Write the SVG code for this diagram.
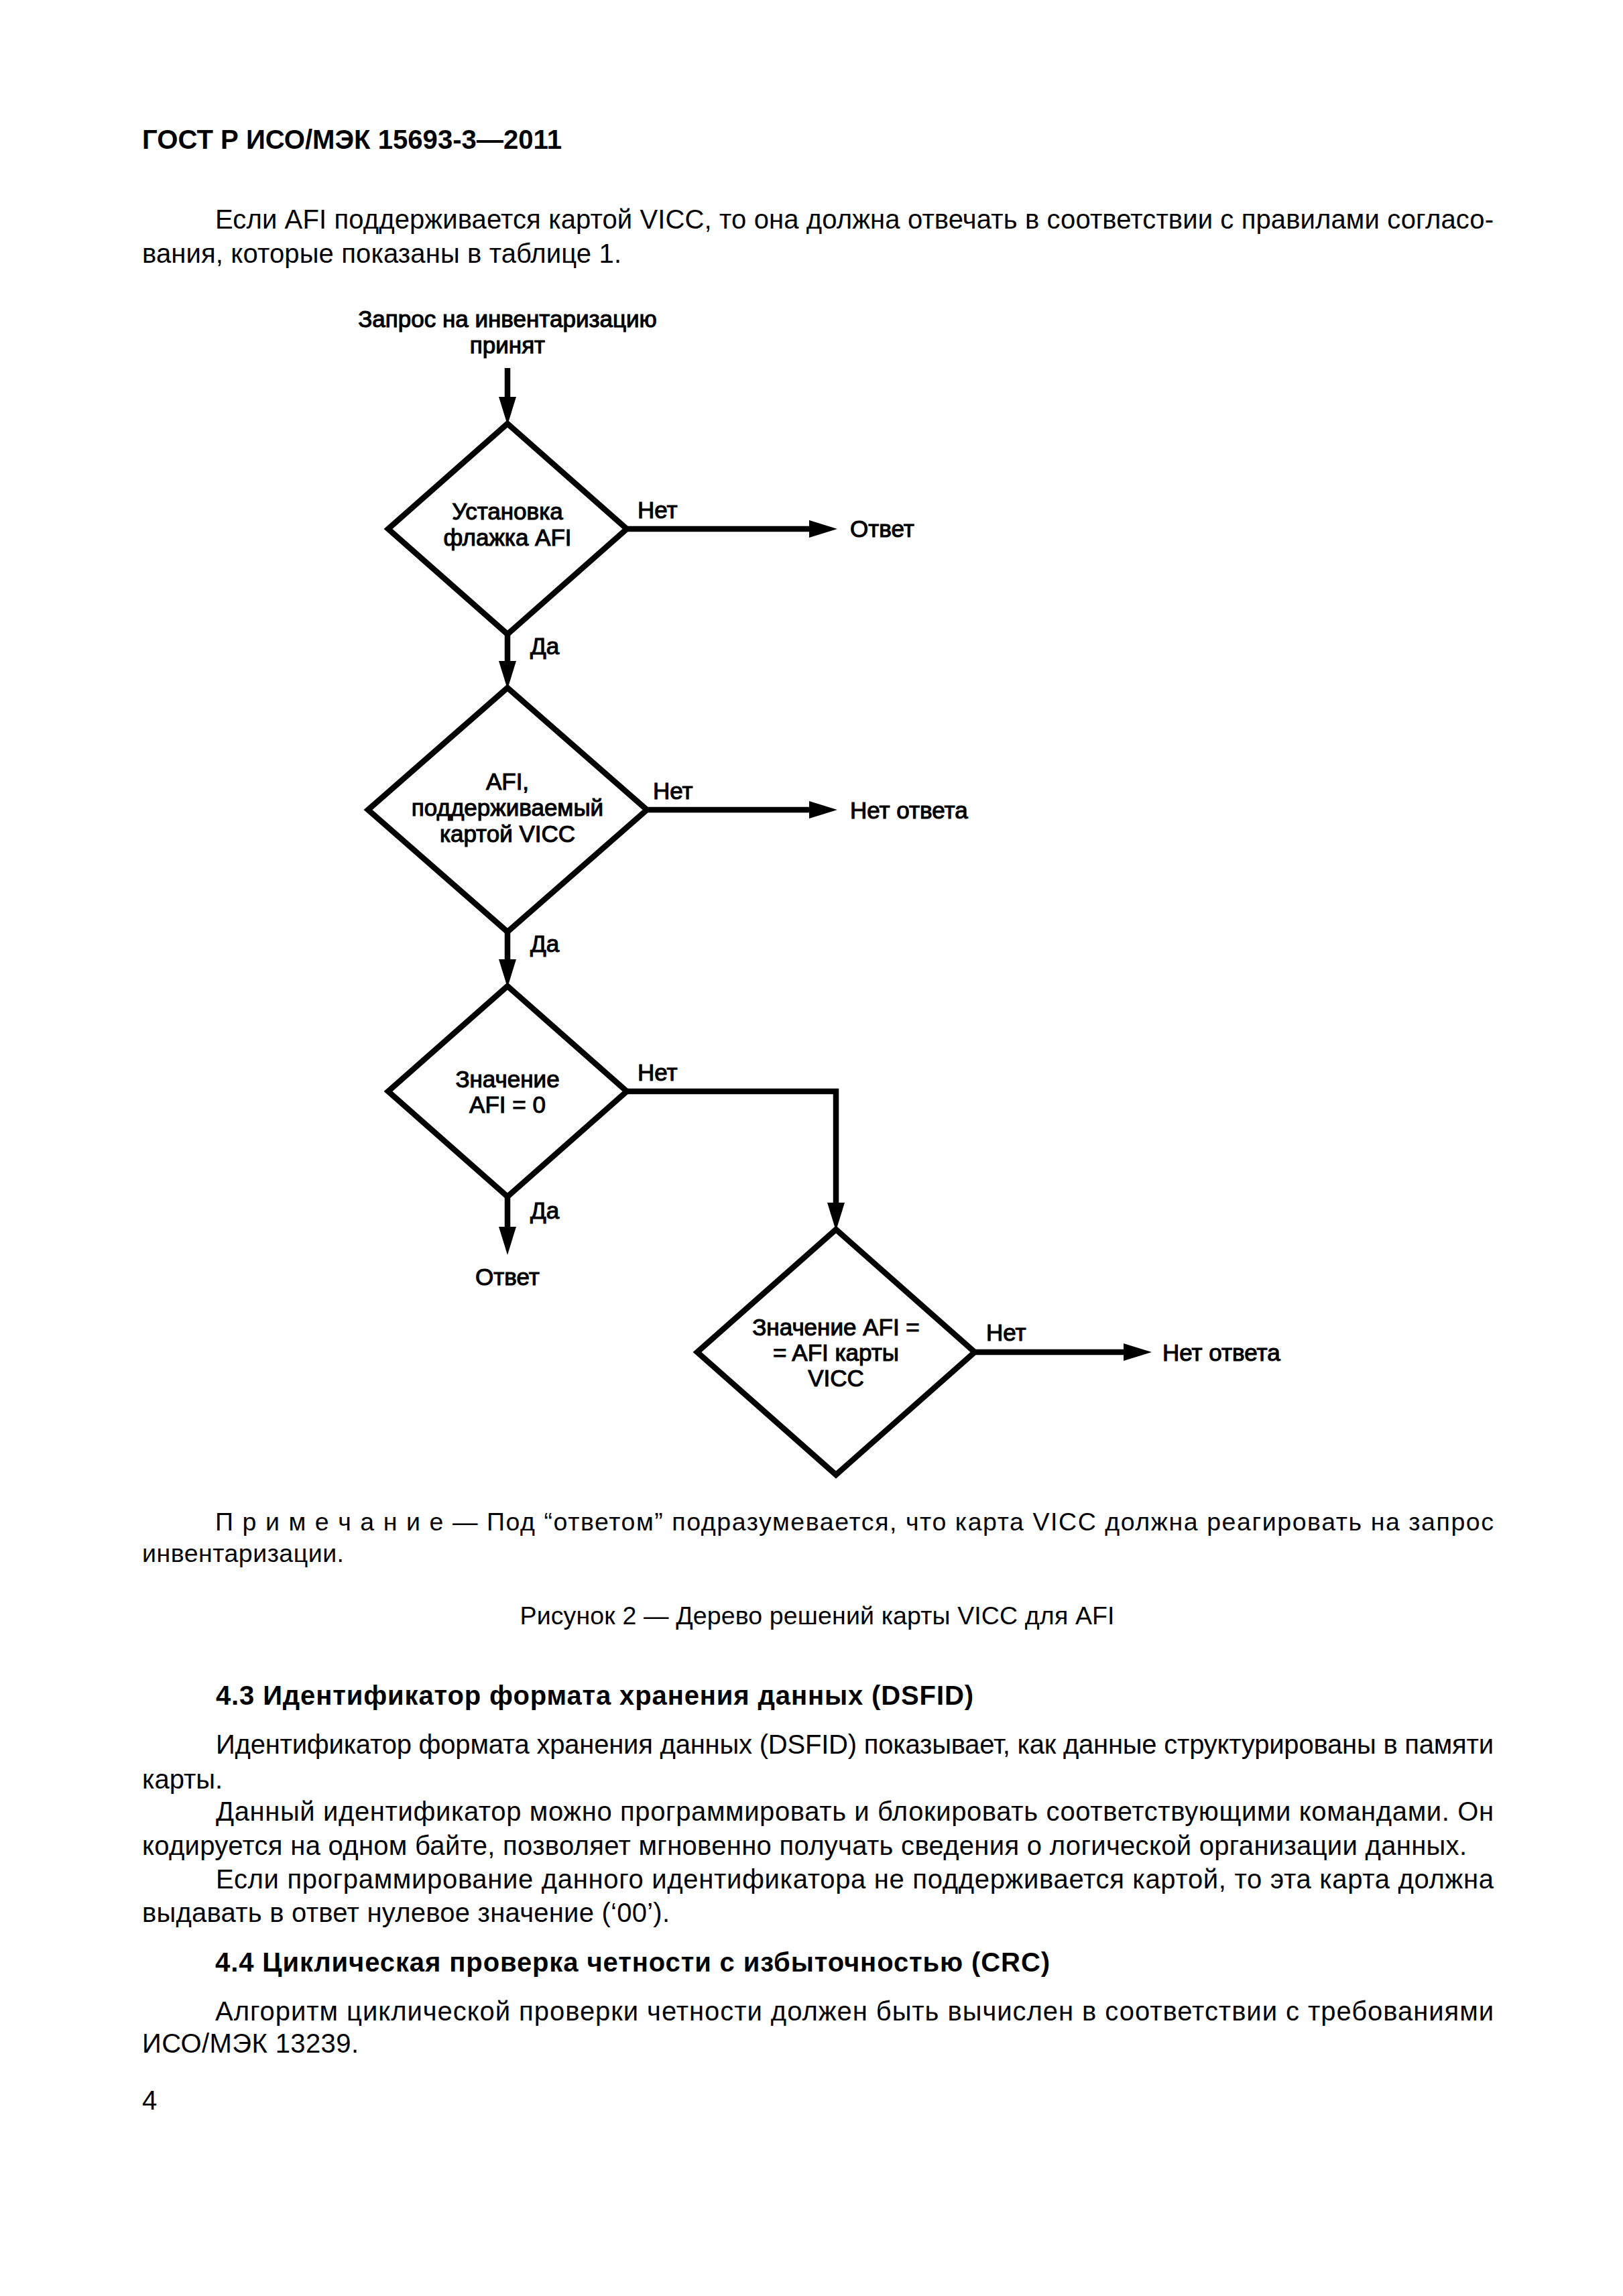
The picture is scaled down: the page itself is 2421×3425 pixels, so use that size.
<svg xmlns="http://www.w3.org/2000/svg" width="2421" height="3425" viewBox="0 0 2421 3425">
<style>
text { font-family: "Liberation Sans", Arial, sans-serif; fill: #000; }
.body { font-size: 40px; }
.bold { font-size: 40px; font-weight: bold; }
.note { font-size: 37.5px; }
.fc { font-size: 35px; stroke: #000; stroke-width: 1.1px; }
.mid { text-anchor: middle; }
.dia { fill: none; stroke: #000; stroke-width: 8.5; stroke-linejoin: miter; }
.conn { fill: none; stroke: #000; stroke-width: 8.5; }
</style>
<defs>
<marker id="arr" markerUnits="userSpaceOnUse" markerWidth="44" markerHeight="28" refX="8" refY="13" orient="auto">
<path d="M0,0 L42,13 L0,26 z" fill="#000"/>
</marker>
</defs>
<rect width="2421" height="3425" fill="#fff"/>

<g id="page-text">
<text class="bold" x="212" y="222" textLength="626" lengthAdjust="spacingAndGlyphs">ГОСТ Р ИСО/МЭК 15693-3—2011</text>
<text class="body" x="321" y="341" textLength="1907" lengthAdjust="spacing">Если AFI поддерживается картой VICC, то она должна отвечать в соответствии с правилами согласо-</text>
<text class="body" x="212" y="392" textLength="715" lengthAdjust="spacing">вания, которые показаны в таблице 1.</text>

<text class="note" x="321" y="2283" textLength="1907" lengthAdjust="spacing">П р и м е ч а н и е — Под “ответом” подразумевается, что карта VICC должна реагировать на запрос</text>
<text class="note" x="212" y="2330" textLength="301" lengthAdjust="spacing">инвентаризации.</text>
<text class="note mid" x="1219" y="2423" textLength="887" lengthAdjust="spacing">Рисунок 2 — Дерево решений карты VICC для AFI</text>

<text class="bold" x="322" y="2543" textLength="1130" lengthAdjust="spacing">4.3 Идентификатор формата хранения данных (DSFID)</text>
<text class="body" x="322" y="2616" textLength="1906" lengthAdjust="spacing">Идентификатор формата хранения данных (DSFID) показывает, как данные структурированы в памяти</text>
<text class="body" x="212" y="2668">карты.</text>
<text class="body" x="322" y="2716" textLength="1906" lengthAdjust="spacing">Данный идентификатор можно программировать и блокировать соответствующими командами. Он</text>
<text class="body" x="212" y="2767" textLength="1976" lengthAdjust="spacing">кодируется на одном байте, позволяет мгновенно получать сведения о логической организации данных.</text>
<text class="body" x="322" y="2817" textLength="1906" lengthAdjust="spacing">Если программирование данного идентификатора не поддерживается картой, то эта карта должна</text>
<text class="body" x="212" y="2867" textLength="787" lengthAdjust="spacing">выдавать в ответ нулевое значение (‘00’).</text>

<text class="bold" x="321" y="2941" textLength="1245" lengthAdjust="spacing">4.4 Циклическая проверка четности с избыточностью (CRC)</text>
<text class="body" x="321" y="3014" textLength="1907" lengthAdjust="spacing">Алгоритм циклической проверки четности должен быть вычислен в соответствии с требованиями</text>
<text class="body" x="212" y="3062" textLength="323" lengthAdjust="spacing">ИСО/МЭК 13239.</text>
<text class="body" x="212" y="3147">4</text>
</g>

<g id="start">
<text class="fc mid" x="757" y="488">Запрос на инвентаризацию</text>
<text class="fc mid" x="757" y="527">принят</text>
</g>

<g id="d1">
<polygon class="dia" points="757,632 935,789 757,946 579,789"/>
<text class="fc mid" x="757" y="775">Установка</text>
<text class="fc mid" x="757" y="814">флажка AFI</text>
</g>

<g id="d2">
<polygon class="dia" points="757,1026 965,1208 757,1390 549,1208"/>
<text class="fc mid" x="757" y="1178">AFI,</text>
<text class="fc mid" x="757" y="1217">поддерживаемый</text>
<text class="fc mid" x="757" y="1256">картой VICC</text>
</g>

<g id="d3">
<polygon class="dia" points="757,1471 935,1628 757,1785 579,1628"/>
<text class="fc mid" x="757" y="1622">Значение</text>
<text class="fc mid" x="757" y="1660">AFI = 0</text>
</g>

<g id="d4">
<polygon class="dia" points="1247,1834 1454,2017 1247,2200 1040,2017"/>
<text class="fc mid" x="1247" y="1992">Значение AFI =</text>
<text class="fc mid" x="1247" y="2030">= AFI карты</text>
<text class="fc mid" x="1247" y="2068">VICC</text>
</g>

<g id="out1"><text class="fc" x="1268" y="801">Ответ</text></g>
<g id="out2"><text class="fc" x="1268" y="1221">Нет ответа</text></g>
<g id="out3"><text class="fc mid" x="757" y="1917">Ответ</text></g>
<g id="out4"><text class="fc" x="1734" y="2030">Нет ответа</text></g>

<g id="connectors">
<line class="conn" x1="757" y1="549" x2="757" y2="600" marker-end="url(#arr)"/>
<line class="conn" x1="935" y1="789" x2="1215" y2="789" marker-end="url(#arr)"/>
<line class="conn" x1="757" y1="946" x2="757" y2="994" marker-end="url(#arr)"/>
<line class="conn" x1="965" y1="1208" x2="1215" y2="1208" marker-end="url(#arr)"/>
<line class="conn" x1="757" y1="1390" x2="757" y2="1439" marker-end="url(#arr)"/>
<polyline class="conn" points="935,1628 1247,1628 1247,1802" marker-end="url(#arr)"/>
<line class="conn" x1="757" y1="1785" x2="757" y2="1838" marker-end="url(#arr)"/>
<line class="conn" x1="1454" y1="2017" x2="1684" y2="2017" marker-end="url(#arr)"/>
<text class="fc" x="951" y="773">Нет</text>
<text class="fc" x="791" y="976">Да</text>
<text class="fc" x="974" y="1192">Нет</text>
<text class="fc" x="791" y="1420">Да</text>
<text class="fc" x="951" y="1612">Нет</text>
<text class="fc" x="791" y="1818">Да</text>
<text class="fc" x="1471" y="2000">Нет</text>
</g>
</svg>
